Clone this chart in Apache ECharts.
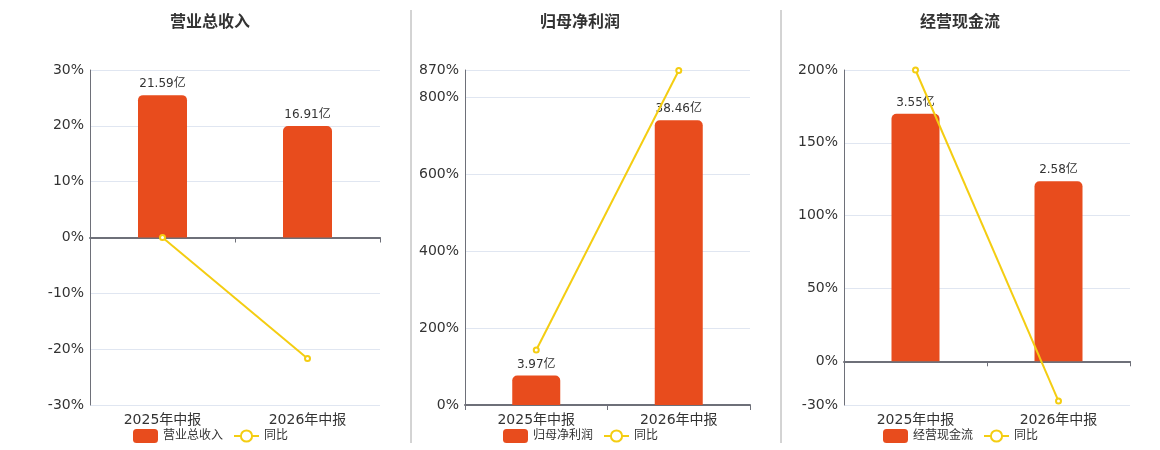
<!DOCTYPE html>
<html>
<head>
<meta charset="utf-8">
<script src="https://cdn.jsdelivr.net/npm/echarts@6/dist/echarts.min.js"></script>
<style>
html,body{margin:0;padding:0;background:#fff;}
#main{width:1160px;height:450px;}
</style>
</head>
<body>
<div id="main"></div>
<script>
const categories = ['2025年中报', '2026年中报'];
const panelTitles = ['营业总收入', '归母净利润', '经营现金流'];
const yoyName = '同比';
const revenue = [21.59, 16.91];
const revenueYoy = [0, -21.68];
const netProfit = [3.97, 38.46];
const netProfitYoy = [142.8, 868.77];
const cashFlow = [3.55, 2.58];
const cashFlowYoy = [200, -27.32];
const revenueTicks = [-30, -20, -10, 0, 10, 20, 30];
const netProfitTicks = [0, 200, 400, 600, 800, 870];
const cashFlowTicks = [-30, 0, 50, 100, 150, 200];

const barSets = [revenue, netProfit, cashFlow];
const yoySets = [revenueYoy, netProfitYoy, cashFlowYoy];
const tickSets = [revenueTicks, netProfitTicks, cashFlowTicks];

const FONT = 'DejaVu Sans, Noto Sans CJK SC, sans-serif';
const BAR_COLOR = '#E84C1D';
const LINE_COLOR = '#F4CD12';
const grids = [
  {left: 90, top: 70, width: 290, height: 335},
  {left: 465, top: 70, width: 285, height: 335},
  {left: 844, top: 70, width: 286, height: 335}
];
const centers = [210, 580, 960];
const barWidths = [49, 48, 48];

const option = {
  animation: false,
  textStyle: {fontFamily: FONT},
  title: [], grid: [], xAxis: [], yAxis: [], series: [], legend: [],
  graphic: [
    {type: 'line', shape: {x1: 411, y1: 10, x2: 411, y2: 443}, style: {stroke: '#a8a8a8', lineWidth: 1}},
    {type: 'line', shape: {x1: 781, y1: 10, x2: 781, y2: 443}, style: {stroke: '#a8a8a8', lineWidth: 1}}
  ]
};

for (let i = 0; i < 3; i++) {
  const ticks = tickSets[i];
  const tMin = Math.min.apply(null, ticks);
  const tMax = Math.max.apply(null, ticks);
  option.title.push({
    text: panelTitles[i], left: centers[i] - 40, top: 15, padding: 0,
    textStyle: {fontSize: 16, fontWeight: 'bold', color: '#333', fontFamily: FONT}
  });
  option.grid.push(Object.assign({containLabel: false}, grids[i]));
  // axis line on zero, no labels
  option.xAxis.push({
    type: 'category', gridIndex: i, data: categories,
    axisLine: {show: true, onZero: true, onZeroAxisIndex: 2 * i, lineStyle: {color: '#6E7079', width: 2}},
    axisTick: {show: true, lineStyle: {color: '#6E7079'}},
    axisLabel: {show: false}
  });
  // labels at bottom
  option.xAxis.push({
    type: 'category', gridIndex: i, data: categories, position: 'bottom',
    axisLine: {show: false, onZero: false}, axisTick: {show: false},
    axisLabel: {show: true, fontSize: 14, color: '#333', fontFamily: FONT, margin: 8}
  });
  option.yAxis.push({
    type: 'value', gridIndex: i, min: tMin, max: tMax,
    axisLine: {show: true, lineStyle: {color: '#6E7079'}},
    axisTick: {show: false, customValues: ticks},
    axisLabel: {formatter: '{value}%', fontSize: 14, color: '#333', fontFamily: FONT, margin: 6, customValues: ticks},
    splitLine: {show: true, lineStyle: {color: '#E0E6F1'}}
  });
  const bmax = Math.max.apply(null, barSets[i]) / 0.85;
  option.yAxis.push({
    type: 'value', gridIndex: i, show: false,
    min: bmax * tMin / tMax, max: bmax,
    splitLine: {show: false}
  });
  option.series.push({
    name: panelTitles[i], type: 'bar', xAxisIndex: 2 * i, yAxisIndex: 2 * i + 1,
    data: barSets[i], barWidth: barWidths[i], z: 2,
    itemStyle: {color: BAR_COLOR, borderRadius: [5, 5, 0, 0]},
    label: {show: true, position: 'top', fontSize: 12, color: '#333', fontFamily: FONT,
      formatter: p => p.value + '亿'}
  });
  option.series.push({
    name: yoyName, type: 'line', xAxisIndex: 2 * i, yAxisIndex: 2 * i, z: 5,
    data: yoySets[i], symbol: 'emptyCircle', symbolSize: 5,
    lineStyle: {color: LINE_COLOR, width: 2},
    itemStyle: {color: LINE_COLOR, borderColor: LINE_COLOR, borderWidth: 2}
  });
  option.legend.push({
    data: [panelTitles[i], yoyName], left: centers[i] - 77, top: 429, padding: 0,
    itemWidth: 25, itemHeight: 14, itemGap: 10,
    textStyle: {fontSize: 12, color: '#333', fontFamily: FONT}
  });
}

const chart = echarts.init(document.getElementById('main'));
chart.setOption(option);
</script>
</body>
</html>
